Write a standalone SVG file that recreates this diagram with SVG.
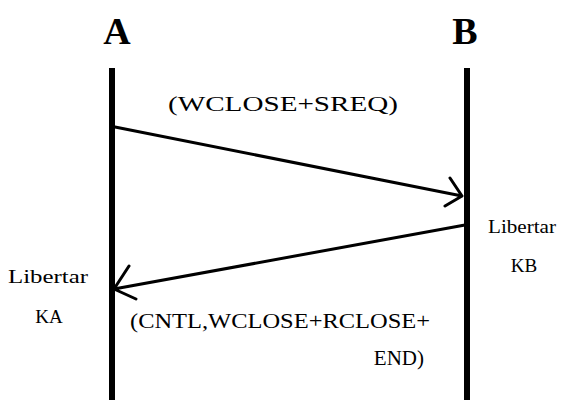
<svg xmlns="http://www.w3.org/2000/svg" width="573" height="400" viewBox="0 0 573 400">
<style>
.life{stroke:#000;stroke-width:6;fill:none}
.msg{stroke:#000;stroke-width:3;fill:none;stroke-linecap:round;stroke-linejoin:round}
text{font-family:'Liberation Serif','Times New Roman','DejaVu Serif',serif;fill:#000}
.head{font-weight:bold;font-size:38px}
.lbl{font-size:21px}
.side{font-size:19px}
</style>
<rect width="573" height="400" fill="#fff"/>
<g id="A">
<text class="head" x="117" y="44" text-anchor="middle">A</text>
<line class="life" x1="112" y1="68" x2="112" y2="400"/>
<text class="side" x="48" y="283" text-anchor="middle" textLength="80" lengthAdjust="spacingAndGlyphs">Libertar</text>
<text class="side" x="49" y="323" text-anchor="middle">KA</text>
</g>
<g id="B">
<text class="head" x="465" y="44" text-anchor="middle">B</text>
<line class="life" x1="467" y1="68" x2="467" y2="400"/>
<text class="side" x="522" y="233" text-anchor="middle" textLength="68" lengthAdjust="spacingAndGlyphs">Libertar</text>
<text class="side" x="524" y="272" text-anchor="middle">KB</text>
</g>
<g id="connectors">
<path class="msg" d="M115,127 L462,196 M450,178 L462,196 L445,206"/>
<text class="lbl" x="168" y="111" textLength="230" lengthAdjust="spacingAndGlyphs">(WCLOSE+SREQ)</text>
<path class="msg" d="M465,225 L114,289 M129,266 L114,289 L136,299"/>
<text class="lbl" x="130" y="328" textLength="300" lengthAdjust="spacingAndGlyphs">(CNTL,WCLOSE+RCLOSE+</text>
<text class="lbl" x="424" y="365" text-anchor="end">END)</text>
</g>
</svg>
